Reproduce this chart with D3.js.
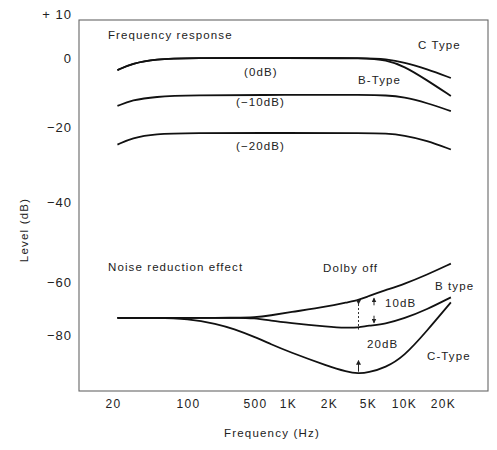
<!DOCTYPE html>
<meta charset="utf-8">
<script src="https://d3js.org/d3.v7.min.js"></script>
<style>
  body { margin: 0; background: #fff; }
  text { font-family: "Liberation Sans", Arial, sans-serif; fill: #222; }
</style>
<div id="chart"></div>
<script>

// axis ticks (printed positions on the original are uneven, so the scales are piecewise)
var freqTicks = [20, 100, 500, 1000, 2000, 5000, 10000, 20000];
var freqLabels = ["20", "100", "500", "1K", "2K", "5K", "10K", "20K"];
var levelTicks = [10, 0, -20, -40, -60, -80];
var levelLabels = ["+ 10", "0", "\u221220", "\u221240", "\u221260", "\u221280"];

// frequency response curves (Hz / dB)
var respFreq = [22, 30, 50, 100, 1000, 5000, 7000, 10000, 15000, 23000];
var respC0   = [-3.5, -1.6, -0.3, 0, 0, 0, -0.3, -1.2, -3.2, -5.8];
var respB0   = [-3.5, -1.6, -0.3, 0, 0, 0, -0.6, -2.3, -6.4, -11];
var resp10   = [-13.9, -12.2, -11.2, -10.8, -10.7, -10.7, -10.8, -11.3, -13, -15.4];
var resp20   = [-24.7, -22.9, -21.8, -21.6, -21.6, -21.6, -21.7, -22.2, -23.6, -26];

// noise reduction effect curves
var noiseFreq = [22, 50, 100, 200, 300, 500, 700, 1000, 2000, 3000, 4000, 5000, 7000, 10000, 15000, 23000];
var noiseOff  = [-73.5, -73.5, -73.5, -73.5, -73.5, -73.4, -72.6, -71.5, -69.2, -67.7, -66.8, -65.4, -63.1, -60.8, -58.2, -55.4];
var noiseB    = [-73.5, -73.5, -73.5, -73.5, -73.5, -73.6, -74.6, -75.4, -76.9, -77.3, -77.2, -76.5, -75.8, -73.8, -70.4, -65.8];
var noiseC    = [-73.5, -73.5, -73.8, -75.8, -77.7, -80.8, -83.5, -86.2, -91.9, -93.8, -94.6, -94.2, -92.3, -88.1, -78.5, -67.7];

var width = 497, height = 450;
var frame = {left: 79, right: 488, top: 20, bottom: 391};

var svg = d3.select("#chart")
  .append("svg")
    .attr("width", width)
    .attr("height", height);

svg.append("rect").attr("width", width).attr("height", height).attr("fill", "#fff");

var x = d3.scaleLog()
  .domain(freqTicks)
  .range([113, 188, 255, 288, 329, 368, 404, 443]);

var y = d3.scaleLinear()
  .domain(levelTicks)
  .range([14, 58, 127, 202, 282, 335]);

// arrow head
svg.append("defs").append("marker")
    .attr("id", "arrow")
    .attr("viewBox", "0 0 6 6")
    .attr("refX", 5).attr("refY", 3)
    .attr("markerWidth", 5).attr("markerHeight", 5)
    .attr("orient", "auto")
  .append("path")
    .attr("d", "M0,0 L6,3 L0,6 z")
    .attr("fill", "#222");

// frame
svg.append("rect")
  .attr("x", frame.left)
  .attr("y", frame.top)
  .attr("width", frame.right - frame.left)
  .attr("height", frame.bottom - frame.top)
  .attr("fill", "none")
  .attr("stroke", "#666")
  .attr("stroke-width", 1.1);

// axes
var yAxis = svg.append("g")
  .attr("transform", "translate(" + frame.left + ",0)")
  .call(d3.axisLeft(y).tickValues(levelTicks)
    .tickFormat(function(d, i) { return levelLabels[i]; })
    .tickSize(0).tickPadding(7));
yAxis.select(".domain").remove();
yAxis.selectAll("text")
  .style("font-family", "Liberation Sans, Arial, sans-serif")
  .style("font-size", "13px")
  .style("letter-spacing", "1px")
  .attr("fill", "#222");

var xAxis = svg.append("g")
  .attr("transform", "translate(0," + frame.bottom + ")")
  .call(d3.axisBottom(x).tickValues(freqTicks)
    .tickFormat(function(d, i) { return freqLabels[i]; })
    .tickSize(0).tickPadding(8));
xAxis.select(".domain").remove();
xAxis.selectAll("text")
  .style("font-family", "Liberation Sans, Arial, sans-serif")
  .style("font-size", "12px")
  .style("letter-spacing", "1.4px")
  .attr("fill", "#222");

svg.append("text")
  .attr("x", 272).attr("y", 437)
  .attr("text-anchor", "middle")
  .style("font-size", "11.5px").style("letter-spacing", "1.2px")
  .text("Frequency (Hz)");

svg.append("text")
  .attr("transform", "translate(28,230)rotate(-90)")
  .attr("text-anchor", "middle")
  .style("font-size", "11.5px").style("letter-spacing", "1.2px")
  .text("Level (dB)");

// curves
var line = d3.line()
  .x(function(d) { return x(d[0]); })
  .y(function(d) { return y(d[1]); })
  .curve(d3.curveBasis);

var curves = [
  {freq: respFreq, vals: respC0},
  {freq: respFreq, vals: respB0},
  {freq: respFreq, vals: resp10},
  {freq: respFreq, vals: resp20},
  {freq: noiseFreq, vals: noiseOff},
  {freq: noiseFreq, vals: noiseB},
  {freq: noiseFreq, vals: noiseC}
];

svg.selectAll("path.curve")
  .data(curves)
  .enter()
  .append("path")
    .attr("class", "curve")
    .attr("d", function(c) { return line(c.freq.map(function(f, i) { return [f, c.vals[i]]; })); })
    .attr("fill", "none")
    .attr("stroke", "#111")
    .attr("stroke-width", 1.8);

// annotation marks between the noise curves
function valAt(freq, vals, f) { return vals[freq.indexOf(f)]; }

// dotted line showing the B-type gap at 4 kHz
svg.append("line")
  .attr("x1", x(4000)).attr("x2", x(4000))
  .attr("y1", y(valAt(noiseFreq, noiseOff, 4000)) + 4)
  .attr("y2", y(valAt(noiseFreq, noiseB, 4000)) + 2)
  .attr("stroke", "#333")
  .attr("stroke-width", 1)
  .attr("stroke-dasharray", "2,2")
  .attr("marker-start", "url(#arrow)");

// 10dB arrows at 5 kHz
var offY = y(valAt(noiseFreq, noiseOff, 5000)), bY = y(valAt(noiseFreq, noiseB, 5000));
svg.append("line")
  .attr("x1", x(5000) + 6).attr("x2", x(5000) + 6)
  .attr("y1", offY + 9).attr("y2", offY + 2)
  .attr("stroke", "#222").attr("stroke-width", 1)
  .attr("marker-end", "url(#arrow)");
svg.append("line")
  .attr("x1", x(5000) + 6).attr("x2", x(5000) + 6)
  .attr("y1", bY - 10).attr("y2", bY - 3)
  .attr("stroke", "#222").attr("stroke-width", 1)
  .attr("marker-end", "url(#arrow)");

// 20dB arrow at 4 kHz
var cY = y(valAt(noiseFreq, noiseC, 4000));
svg.append("line")
  .attr("x1", x(4000)).attr("x2", x(4000))
  .attr("y1", cY - 2).attr("y2", cY - 13)
  .attr("stroke", "#222").attr("stroke-width", 1)
  .attr("marker-end", "url(#arrow)");

// text labels
var labels = [
  ["Frequency response", 108, 39],
  ["C Type", 418, 49],
  ["(0dB)", 244, 76],
  ["B-Type", 358, 84],
  ["(\u221210dB)", 236, 106],
  ["(\u221220dB)", 236, 150],
  ["Noise reduction effect", 108, 271],
  ["Dolby off", 323, 272],
  ["B type", 435, 290],
  ["10dB", 385, 307],
  ["20dB", 367, 348],
  ["C-Type", 427, 360]
];

svg.selectAll("text.lbl")
  .data(labels)
  .enter()
  .append("text")
    .attr("class", "lbl")
    .attr("x", function(d) { return d[1]; })
    .attr("y", function(d) { return d[2]; })
    .style("font-size", "11.5px")
    .style("letter-spacing", "1.1px")
    .text(function(d) { return d[0]; });

</script>
